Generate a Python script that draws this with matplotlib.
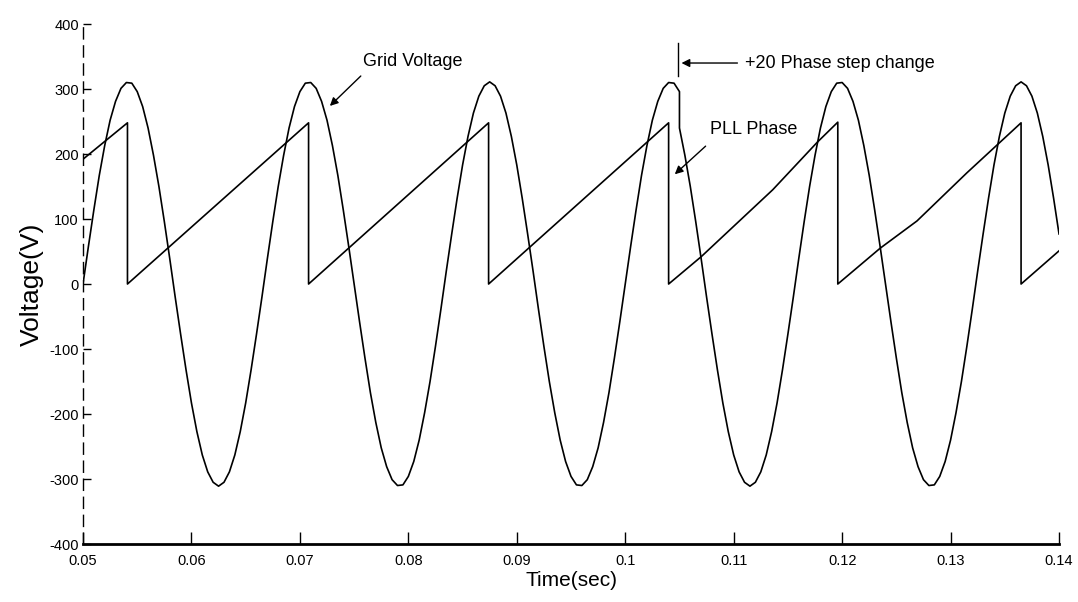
import numpy as np
import matplotlib
matplotlib.use("Agg")
import matplotlib.pyplot as plt

plt.rcParams['font.family'] = ['Liberation Sans', 'DejaVu Sans']

# grid voltage readings, one every 0.5 ms
t_before = np.linspace(0.05, 0.105, 111)
v_before = [0, 58, 114, 167, 213, 252, 281, 301, 310, 309,
            296, 273, 240, 198, 150, 96, 39, -20, -77, -132,
            -183, -227, -263, -289, -305, -311, -305, -289, -263, -227,
            -183, -132, -77, -20, 39, 96, 150, 198, 240, 273,
            296, 309, 310, 301, 281, 252, 213, 167, 114, 58,
            0, -58, -114, -167, -213, -252, -281, -301, -310, -309,
            -296, -273, -240, -198, -150, -96, -39, 20, 77, 132,
            183, 227, 263, 289, 305, 311, 305, 289, 263, 227,
            183, 132, 77, 20, -39, -96, -150, -198, -240, -273,
            -296, -309, -310, -301, -281, -252, -213, -167, -114, -58,
            0, 58, 114, 167, 213, 252, 281, 301, 310, 309, 296]

# after the +20 phase step
t_after = np.linspace(0.105, 0.14, 71)
v_after = [240, 198, 150, 96, 39, -20, -77, -132,
           -183, -227, -263, -289, -305, -311, -305, -289, -263, -227,
           -183, -132, -77, -20, 39, 96, 150, 198, 240, 273,
           296, 309, 310, 301, 281, 252, 213, 167, 114, 58,
           0, -58, -114, -167, -213, -252, -281, -301, -310, -309,
           -296, -273, -240, -198, -150, -96, -39, 20, 77, 132,
           183, 227, 263, 289, 305, 311, 305, 289, 263, 227,
           183, 132, 77]

# PLL phase (sawtooth) corner points
pll_t = [0.05, 0.0541, 0.0541, 0.0708, 0.0708, 0.0874, 0.0874, 0.1040, 0.1040,
         0.1070, 0.1136, 0.1177, 0.1196, 0.1196, 0.1235, 0.1269, 0.1315,
         0.1365, 0.1365, 0.14]
pll_v = [192, 248, 0, 248, 0, 248, 0, 248, 0,
         42, 145, 218, 249, 0, 55, 97, 171,
         248, 0, 51]

x_ticks = [0.05, 0.06, 0.07, 0.08, 0.09, 0.1, 0.11, 0.12, 0.13, 0.14]
x_labels = ['0.05', '0.06', '0.07', '0.08', '0.09', '0.1', '0.11', '0.12', '0.13', '0.14']
y_ticks = [-400, -300, -200, -100, 0, 100, 200, 300, 400]
y_labels = ['-400', '-300', '-200', '-100', '0', '100', '200', '300', '400']

fig = plt.figure(figsize=(10.78, 6.02), dpi=100)
ax = fig.add_axes([0.077, 0.0963, 0.9054, 0.8638])

t_grid = np.concatenate([t_before, t_after])
v_grid = np.concatenate([v_before, v_after])
ax.plot(t_grid, v_grid, color='black', lw=1.2)
ax.plot(pll_t, pll_v, color='black', lw=1.2)

ax.set_xlim(0.05, 0.14)
ax.set_ylim(-400, 400)
ax.set_xticks(x_ticks)
ax.set_xticklabels(x_labels)
ax.set_yticks(y_ticks)
ax.set_yticklabels(y_labels)
ax.tick_params(axis='x', direction='in', length=9, width=1, pad=7, labelsize=10.5)
ax.tick_params(axis='y', direction='in', length=6, width=1, pad=3, labelsize=10.5)

ax.spines['top'].set_visible(False)
ax.spines['right'].set_visible(False)
ax.spines['bottom'].set_linewidth(2)
ax.spines['left'].set_linewidth(1)
ax.spines['left'].set_linestyle((0, (8, 5)))

ax.set_xlabel('Time(sec)', fontsize=15, labelpad=2)
ax.set_ylabel('Voltage(V)', fontsize=19, labelpad=4)

arrow = dict(arrowstyle='-|>', color='black', lw=1, mutation_scale=12)

ax.text(0.0758, 343, 'Grid Voltage', fontsize=13, va='center', ha='left')
ax.annotate('', xy=(0.07258, 271), xytext=(0.0758, 323), arrowprops=arrow)

ax.text(0.1110, 340, '+20 Phase step change', fontsize=13, va='center', ha='left')
ax.plot([0.10484, 0.10484], [320, 371], color='black', lw=1)
ax.annotate('', xy=(0.10493, 340), xytext=(0.1106, 340), arrowprops=arrow)

ax.text(0.1078, 237, 'PLL Phase', fontsize=13, va='center', ha='left')
ax.annotate('', xy=(0.10438, 166), xytext=(0.1076, 215), arrowprops=arrow)

fig.savefig('out.png', dpi=100)
